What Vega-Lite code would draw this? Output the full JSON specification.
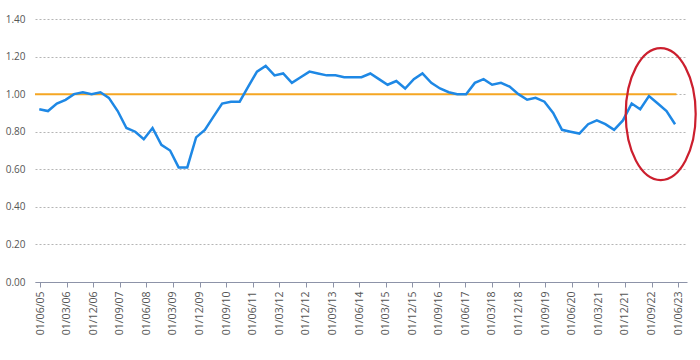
{
  "$schema": "https://vega.github.io/schema/vega-lite/v6.json",
  "width": 652,
  "height": 263,
  "autosize": {"type": "none"},
  "padding": {"left": 35, "top": 19, "right": 13, "bottom": 78},
  "background": "white",
  "config": {"view": {"stroke": null}, "font": "Open Sans"},
  "datasets": {
    "series": [
      {"date": "2005-05-24", "value": 0.92},
      {"date": "2005-08-22", "value": 0.91},
      {"date": "2005-11-21", "value": 0.95},
      {"date": "2006-02-19", "value": 0.97},
      {"date": "2006-05-17", "value": 1.00},
      {"date": "2006-08-16", "value": 1.01},
      {"date": "2006-11-14", "value": 1.00},
      {"date": "2007-02-13", "value": 1.01},
      {"date": "2007-05-11", "value": 0.98},
      {"date": "2007-08-10", "value": 0.91},
      {"date": "2007-11-08", "value": 0.82},
      {"date": "2008-02-07", "value": 0.80},
      {"date": "2008-05-05", "value": 0.76},
      {"date": "2008-08-03", "value": 0.82},
      {"date": "2008-11-02", "value": 0.73},
      {"date": "2009-01-31", "value": 0.70},
      {"date": "2009-04-29", "value": 0.61},
      {"date": "2009-07-27", "value": 0.61},
      {"date": "2009-10-26", "value": 0.77},
      {"date": "2010-01-24", "value": 0.81},
      {"date": "2010-04-23", "value": 0.88},
      {"date": "2010-07-21", "value": 0.95},
      {"date": "2010-10-20", "value": 0.96},
      {"date": "2011-01-18", "value": 0.96},
      {"date": "2011-04-16", "value": 1.04},
      {"date": "2011-07-15", "value": 1.12},
      {"date": "2011-10-13", "value": 1.15},
      {"date": "2012-01-12", "value": 1.10},
      {"date": "2012-04-10", "value": 1.11},
      {"date": "2012-07-09", "value": 1.06},
      {"date": "2012-10-07", "value": 1.09},
      {"date": "2013-01-06", "value": 1.12},
      {"date": "2013-04-04", "value": 1.11},
      {"date": "2013-07-03", "value": 1.10},
      {"date": "2013-10-01", "value": 1.10},
      {"date": "2013-12-30", "value": 1.09},
      {"date": "2014-03-28", "value": 1.09},
      {"date": "2014-06-26", "value": 1.09},
      {"date": "2014-09-25", "value": 1.11},
      {"date": "2014-12-23", "value": 1.08},
      {"date": "2015-03-22", "value": 1.05},
      {"date": "2015-06-20", "value": 1.07},
      {"date": "2015-09-19", "value": 1.03},
      {"date": "2015-12-17", "value": 1.08},
      {"date": "2016-03-15", "value": 1.11},
      {"date": "2016-06-14", "value": 1.06},
      {"date": "2016-09-12", "value": 1.03},
      {"date": "2016-12-11", "value": 1.01},
      {"date": "2017-03-09", "value": 1.00},
      {"date": "2017-06-08", "value": 1.00},
      {"date": "2017-09-06", "value": 1.06},
      {"date": "2017-12-05", "value": 1.08},
      {"date": "2018-03-03", "value": 1.05},
      {"date": "2018-06-02", "value": 1.06},
      {"date": "2018-08-30", "value": 1.04},
      {"date": "2018-11-29", "value": 1.00},
      {"date": "2019-02-27", "value": 0.97},
      {"date": "2019-05-25", "value": 0.98},
      {"date": "2019-08-24", "value": 0.96},
      {"date": "2019-11-22", "value": 0.90},
      {"date": "2020-02-21", "value": 0.81},
      {"date": "2020-05-19", "value": 0.80},
      {"date": "2020-08-18", "value": 0.79},
      {"date": "2020-11-16", "value": 0.84},
      {"date": "2021-02-14", "value": 0.86},
      {"date": "2021-05-13", "value": 0.84},
      {"date": "2021-08-11", "value": 0.81},
      {"date": "2021-11-10", "value": 0.86},
      {"date": "2022-02-08", "value": 0.95},
      {"date": "2022-05-07", "value": 0.92},
      {"date": "2022-08-05", "value": 0.99},
      {"date": "2022-11-04", "value": 0.95},
      {"date": "2023-02-02", "value": 0.91},
      {"date": "2023-05-01", "value": 0.84}
    ],
    "reference": [
      {"date": "2005-04-10", "value": 1.0},
      {"date": "2023-05-15", "value": 1.0}
    ],
    "marker": [{"date": "2022-12-04", "value": 0.894}]
  },
  "encoding": {
    "x": {
      "field": "date",
      "type": "temporal",
      "scale": {
        "type": "utc",
        "domain": [
          {"year": 2005, "month": 4, "date": 10, "utc": true},
          {"year": 2023, "month": 9, "date": 1, "utc": true}
        ]
      },
      "axis": {
        "title": null,
        "grid": false,
        "format": "%d/%m/%y",
        "values": [
          {"year": 2005, "month": 6, "date": 1, "utc": true},
          {"year": 2006, "month": 3, "date": 1, "utc": true},
          {"year": 2006, "month": 12, "date": 1, "utc": true},
          {"year": 2007, "month": 9, "date": 1, "utc": true},
          {"year": 2008, "month": 6, "date": 1, "utc": true},
          {"year": 2009, "month": 3, "date": 1, "utc": true},
          {"year": 2009, "month": 12, "date": 1, "utc": true},
          {"year": 2010, "month": 9, "date": 1, "utc": true},
          {"year": 2011, "month": 6, "date": 1, "utc": true},
          {"year": 2012, "month": 3, "date": 1, "utc": true},
          {"year": 2012, "month": 12, "date": 1, "utc": true},
          {"year": 2013, "month": 9, "date": 1, "utc": true},
          {"year": 2014, "month": 6, "date": 1, "utc": true},
          {"year": 2015, "month": 3, "date": 1, "utc": true},
          {"year": 2015, "month": 12, "date": 1, "utc": true},
          {"year": 2016, "month": 9, "date": 1, "utc": true},
          {"year": 2017, "month": 6, "date": 1, "utc": true},
          {"year": 2018, "month": 3, "date": 1, "utc": true},
          {"year": 2018, "month": 12, "date": 1, "utc": true},
          {"year": 2019, "month": 9, "date": 1, "utc": true},
          {"year": 2020, "month": 6, "date": 1, "utc": true},
          {"year": 2021, "month": 3, "date": 1, "utc": true},
          {"year": 2021, "month": 12, "date": 1, "utc": true},
          {"year": 2022, "month": 9, "date": 1, "utc": true},
          {"year": 2023, "month": 6, "date": 1, "utc": true}
        ],
        "labelAngle": -90,
        "labelAlign": "right",
        "labelBaseline": "middle",
        "labelFontSize": 10.5,
        "labelColor": "#555555",
        "labelPadding": 4,
        "labelOverlap": false,
        "labelFlush": false,
        "tickSize": 5,
        "tickColor": "#8d93a8",
        "domainColor": "#8d93a8",
        "domainWidth": 1.2
      }
    },
    "y": {
      "field": "value",
      "type": "quantitative",
      "scale": {"domain": [0, 1.4], "nice": false, "zero": true},
      "axis": {
        "title": null,
        "values": [0, 0.2, 0.4, 0.6, 0.8, 1.0, 1.2, 1.4],
        "format": ".2f",
        "domain": false,
        "ticks": false,
        "grid": true,
        "gridDash": [2, 2],
        "gridColor": "#b5b5b5",
        "gridWidth": 1,
        "labelPadding": 10,
        "labelFontSize": 10,
        "labelOverlap": false,
        "labelColor": "#555555"
      }
    }
  },
  "layer": [
    {
      "data": {"name": "reference"},
      "mark": {"type": "line", "color": "#f5a623", "strokeWidth": 2}
    },
    {
      "data": {"name": "series"},
      "mark": {"type": "line", "color": "#1e88e5", "strokeWidth": 2.5}
    },
    {
      "data": {"name": "marker"},
      "mark": {
        "type": "point",
        "shape": "M 0 -1 A 0.53 1 0 1 1 0 1 A 0.53 1 0 1 1 0 -1 Z",
        "size": 17424,
        "filled": false,
        "stroke": "#cc1f2e",
        "strokeWidth": 2.2,
        "opacity": 1
      }
    }
  ]
}
